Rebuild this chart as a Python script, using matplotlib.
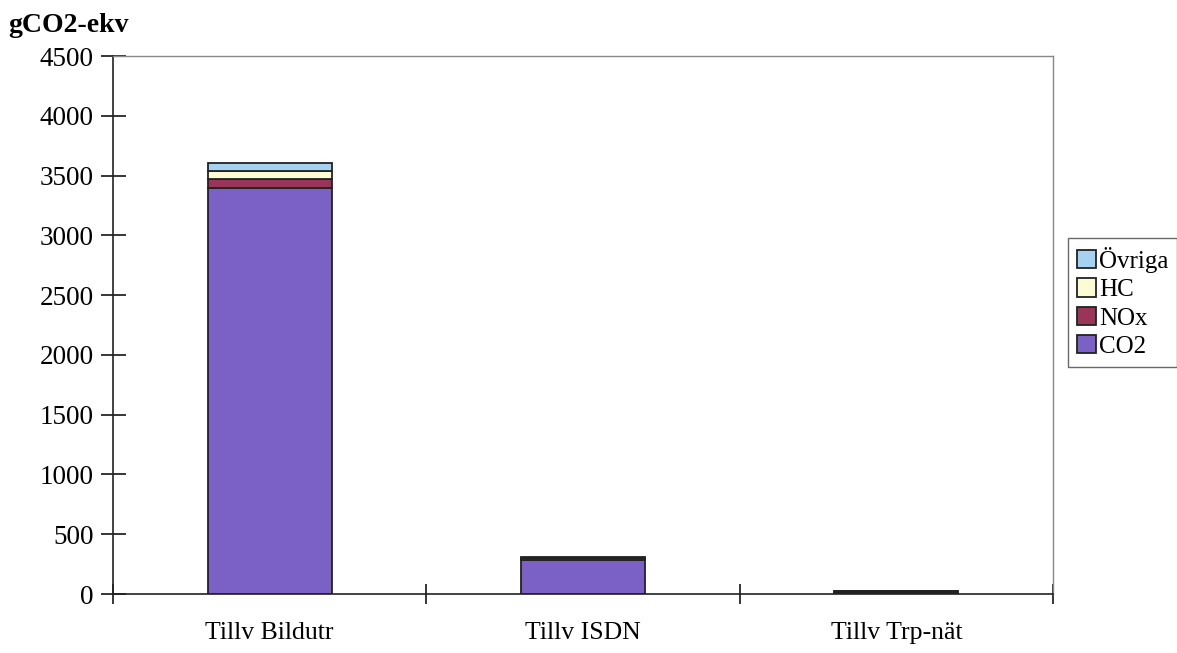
import matplotlib.pyplot as plt
import numpy as np

plt.rcParams['font.family'] = ['Liberation Serif', 'DejaVu Serif']

kategorier = ['Tillv Bildutr', 'Tillv ISDN', 'Tillv Trp-nät']
co2 = [3400, 285, 20]
nox = [70, 12, 2]
hc = [65, 5, 1]
ovriga = [70, 8, 2]

serier = [('CO2', co2, '#7b60c6'),
          ('NOx', nox, '#9a3458'),
          ('HC', hc, '#fdfbd2'),
          ('Övriga', ovriga, '#a4d2f0')]

fig = plt.figure(figsize=(11.77, 6.53), dpi=100)
ax = fig.add_axes([113/1177, 59/653, 940/1177, 538/653])

x = np.arange(len(kategorier))
bottom = np.zeros(len(kategorier))
handles = []
for namn, v, farg in serier:
    b = ax.bar(x, v, width=0.396, bottom=bottom, color=farg,
               edgecolor='#222222', linewidth=1.3, label=namn)
    bottom += np.array(v)
    handles.append(b)

ax.set_xlim(-0.5, 2.5)
ax.set_ylim(0, 4500)
ax.set_yticks(range(0, 4501, 500))
ax.set_xticks(x)
ax.set_xticklabels(kategorier, fontsize=18.5)
ax.set_xticks([-0.5, 0.5, 1.5, 2.5], minor=True)
ax.tick_params(axis='x', which='major', length=0, pad=20)
ax.tick_params(axis='x', which='minor', direction='inout', length=14, width=1.1)
ax.tick_params(axis='y', direction='inout', length=18, width=1.1, labelsize=19.5, pad=5)

for s in ['top', 'right']:
    ax.spines[s].set_color('#888888')
    ax.spines[s].set_linewidth(1)
for s in ['left', 'bottom']:
    ax.spines[s].set_color('#222222')
    ax.spines[s].set_linewidth(1.2)

fig.text(8/1177, 1 - 25/653, 'gCO2-ekv', fontsize=20, fontweight='bold',
         va='center', ha='left')

leg = ax.legend(handles[::-1], [h.get_label() for h in handles[::-1]],
                loc='upper left', bbox_to_anchor=(1068/1177, 1 - 238/653),
                bbox_transform=fig.transFigure, fontsize=18, frameon=True,
                fancybox=False, edgecolor='#444444', handlelength=0.75,
                handleheight=0.75, handletextpad=0.15, labelspacing=0.22,
                borderpad=0.35, borderaxespad=0)
leg.get_frame().set_linewidth(1)

fig.savefig('out.png', dpi=100)
